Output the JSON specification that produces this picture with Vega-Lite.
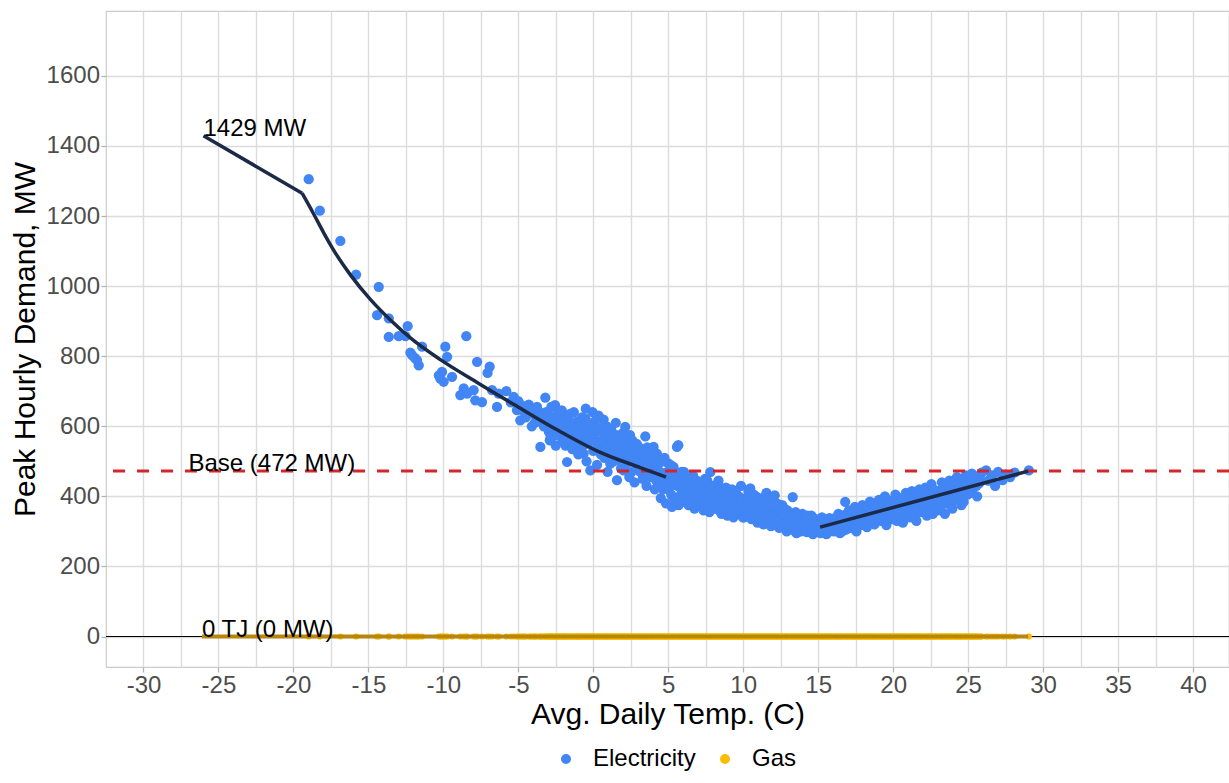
{
"$schema": "https://vega.github.io/schema/vega-lite/v6.json",
"width": 1123, "height": 656,
"autosize": "none",
"padding": {"left": 106, "top": 11, "right": 0, "bottom": 116},
"background": "white",
"config": {
  "font": "Liberation Sans",
  "view": {"stroke": "#CCCCCC", "strokeWidth": 1.2},
  "axis": {"labelFont": "Liberation Sans", "labelFontSize": 24, "labelColor": "#4D4D4D", "titleFont": "Liberation Sans", "titleFontSize": 30, "titleColor": "#000000", "titleFontWeight": "normal", "gridColor": "#DCDCDC", "gridWidth": 1.4, "domain": false, "tickColor": "#B3B3B3", "tickSize": 5, "tickWidth": 1.3, "labelPadding": 1.5, "labelOverlap": false, "labelFlush": false},
  "axisX": {"titlePadding": 2},
  "axisY": {"titlePadding": 6},
  "legend": {"labelFont": "Liberation Sans", "labelFontSize": 24, "labelColor": "#000000", "padding": 0}
},
"datasets": {
"pts": [
{"t":-18.98,"e":1305,"g":0},{"t":-18.24,"e":1215,"g":0},{"t":-16.87,"e":1129,"g":0},{"t":-15.82,"e":1033,"g":0},{"t":-14.31,"e":998,"g":0},{"t":-14.42,"e":917,"g":0},{"t":-13.64,"e":908,"g":0},{"t":-13.64,"e":855,"g":0},{"t":-12.98,"e":857,"g":0},{"t":-12.38,"e":886,"g":0},{"t":-12.53,"e":857,"g":0},{"t":-11.42,"e":827,"g":0},{"t":-12.09,"e":803,"g":0},{"t":-11.64,"e":774,"g":0},{"t":-11.76,"e":789,"g":0},{"t":-11.9,"e":795,"g":0},{"t":-12.2,"e":810,"g":0},{"t":-9.87,"e":827,"g":0},{"t":-9.75,"e":798,"g":0},{"t":-10.09,"e":755,"g":0},{"t":-10.2,"e":736,"g":0},{"t":-9.98,"e":727,"g":0},{"t":-9.42,"e":741,"g":0},{"t":-10.3,"e":745,"g":0},{"t":-8.47,"e":857,"g":0},{"t":-7.75,"e":784,"g":0},{"t":-6.91,"e":770,"g":0},{"t":-7.05,"e":752,"g":0},{"t":-8.87,"e":689,"g":0},{"t":-8.42,"e":693,"g":0},{"t":-7.87,"e":674,"g":0},{"t":-7.42,"e":669,"g":0},{"t":-8.64,"e":708,"g":0},{"t":-7.98,"e":703,"g":0},{"t":-6.75,"e":703,"g":0},{"t":-6.31,"e":693,"g":0},{"t":-6.42,"e":655,"g":0},{"t":-5.31,"e":684,"g":0},{"t":-5.09,"e":646,"g":0},{"t":-4.65,"e":655,"g":0},{"t":-4.87,"e":617,"g":0},{"t":-3.87,"e":631,"g":0},{"t":-3.2,"e":682,"g":0},{"t":-5.8,"e":700,"g":0},{"t":-5.5,"e":668,"g":0},{"t":-5.0,"e":672,"g":0},{"t":-4.6,"e":640,"g":0},{"t":-4.3,"e":662,"g":0},{"t":-4.0,"e":648,"g":0},{"t":-3.6,"e":640,"g":0},{"t":-3.4,"e":610,"g":0},{"t":-3.0,"e":625,"g":0},{"t":-3.53,"e":541,"g":0},{"t":-2.87,"e":565,"g":0},{"t":-3.09,"e":598,"g":0},
{"t":-4.8,"e":660,"g":0},{"t":-4.5,"e":625,"g":0},{"t":-4.2,"e":645,"g":0},{"t":-3.9,"e":610,"g":0},{"t":-3.75,"e":655,"g":0},{"t":-3.3,"e":600,"g":0},{"t":-3.15,"e":640,"g":0},{"t":-4.1,"e":600,"g":0},{"t":-3.5,"e":625,"g":0},
{"t":-2.95,"e":612,"g":0},{"t":-2.9,"e":560,"g":0},{"t":-2.8,"e":655,"g":0},{"t":-2.7,"e":590,"g":0},{"t":-2.6,"e":625,"g":0},{"t":-2.5,"e":545,"g":0},{"t":-2.45,"e":600,"g":0},{"t":-2.3,"e":640,"g":0},{"t":-2.2,"e":575,"g":0},{"t":-2.15,"e":610,"g":0},{"t":-2.05,"e":560,"g":0},{"t":-2.0,"e":630,"g":0},
{"t":-2.97,"e":585,"g":0},{"t":-2.85,"e":630,"g":0},{"t":-2.75,"e":570,"g":0},{"t":-2.65,"e":600,"g":0},{"t":-2.55,"e":660,"g":0},{"t":-2.4,"e":575,"g":0},{"t":-2.35,"e":615,"g":0},{"t":-2.25,"e":595,"g":0},{"t":-2.1,"e":645,"g":0},{"t":-2.02,"e":585,"g":0},
{"t":-1.95,"e":590,"g":0},{"t":-1.85,"e":545,"g":0},{"t":-1.75,"e":498,"g":0},{"t":-1.7,"e":620,"g":0},{"t":-1.6,"e":570,"g":0},{"t":-1.5,"e":600,"g":0},{"t":-1.4,"e":535,"g":0},{"t":-1.3,"e":640,"g":0},{"t":-1.25,"e":580,"g":0},{"t":-1.15,"e":555,"g":0},{"t":-1.05,"e":615,"g":0},{"t":-1.0,"e":520,"g":0},
{"t":-1.97,"e":610,"g":0},{"t":-1.9,"e":565,"g":0},{"t":-1.8,"e":600,"g":0},{"t":-1.65,"e":585,"g":0},{"t":-1.55,"e":635,"g":0},{"t":-1.45,"e":560,"g":0},{"t":-1.35,"e":595,"g":0},{"t":-1.2,"e":610,"g":0},{"t":-1.1,"e":575,"g":0},{"t":-1.02,"e":595,"g":0},
{"t":-0.95,"e":590,"g":0},{"t":-0.85,"e":545,"g":0},{"t":-0.75,"e":625,"g":0},{"t":-0.64,"e":522,"g":0},{"t":-0.6,"e":570,"g":0},{"t":-0.53,"e":622,"g":0},{"t":-0.45,"e":500,"g":0},{"t":-0.35,"e":598,"g":0},{"t":-0.3,"e":555,"g":0},{"t":-0.2,"e":474,"g":0},{"t":-0.15,"e":580,"g":0},{"t":-0.05,"e":640,"g":0},{"t":0.0,"e":530,"g":0},
{"t":-0.98,"e":560,"g":0},{"t":-0.9,"e":610,"g":0},{"t":-0.8,"e":580,"g":0},{"t":-0.7,"e":600,"g":0},{"t":-0.55,"e":548,"g":0},{"t":-0.4,"e":575,"g":0},{"t":-0.25,"e":610,"g":0},{"t":-0.1,"e":560,"g":0},{"t":-0.02,"e":590,"g":0},{"t":-0.5,"e":650,"g":0},
{"t":0.05,"e":605,"g":0},{"t":0.15,"e":560,"g":0},{"t":0.25,"e":490,"g":0},{"t":0.35,"e":630,"g":0},{"t":0.45,"e":541,"g":0},{"t":0.55,"e":585,"g":0},{"t":0.69,"e":619,"g":0},{"t":0.75,"e":510,"g":0},{"t":0.8,"e":560,"g":0},{"t":0.9,"e":600,"g":0},{"t":0.95,"e":470,"g":0},
{"t":0.1,"e":580,"g":0},{"t":0.2,"e":620,"g":0},{"t":0.3,"e":545,"g":0},{"t":0.4,"e":595,"g":0},{"t":0.5,"e":520,"g":0},{"t":0.6,"e":560,"g":0},{"t":0.7,"e":580,"g":0},{"t":0.85,"e":535,"g":0},{"t":0.92,"e":595,"g":0},{"t":0.98,"e":545,"g":0},
{"t":1.05,"e":545,"g":0},{"t":1.13,"e":493,"g":0},{"t":1.2,"e":590,"g":0},{"t":1.3,"e":525,"g":0},{"t":1.4,"e":565,"g":0},{"t":1.5,"e":610,"g":0},{"t":1.58,"e":446,"g":0},{"t":1.65,"e":505,"g":0},{"t":1.75,"e":550,"g":0},{"t":1.85,"e":480,"g":0},{"t":1.95,"e":580,"g":0},
{"t":1.08,"e":570,"g":0},{"t":1.17,"e":520,"g":0},{"t":1.25,"e":555,"g":0},{"t":1.35,"e":500,"g":0},{"t":1.45,"e":540,"g":0},{"t":1.55,"e":575,"g":0},{"t":1.7,"e":530,"g":0},{"t":1.8,"e":560,"g":0},{"t":1.9,"e":515,"g":0},{"t":1.98,"e":545,"g":0},
{"t":2.02,"e":474,"g":0},{"t":2.13,"e":598,"g":0},{"t":2.2,"e":520,"g":0},{"t":2.3,"e":550,"g":0},{"t":2.4,"e":455,"g":0},{"t":2.5,"e":500,"g":0},{"t":2.6,"e":560,"g":0},{"t":2.69,"e":512,"g":0},{"t":2.75,"e":440,"g":0},{"t":2.85,"e":530,"g":0},{"t":2.95,"e":485,"g":0},
{"t":2.05,"e":530,"g":0},{"t":2.17,"e":560,"g":0},{"t":2.25,"e":495,"g":0},{"t":2.35,"e":525,"g":0},{"t":2.45,"e":575,"g":0},{"t":2.55,"e":470,"g":0},{"t":2.65,"e":530,"g":0},{"t":2.8,"e":505,"g":0},{"t":2.9,"e":550,"g":0},{"t":2.98,"e":515,"g":0},
{"t":3.05,"e":540,"g":0},{"t":3.13,"e":470,"g":0},{"t":3.25,"e":505,"g":0},{"t":3.35,"e":474,"g":0},{"t":3.47,"e":571,"g":0},{"t":3.55,"e":430,"g":0},{"t":3.65,"e":490,"g":0},{"t":3.75,"e":525,"g":0},{"t":3.85,"e":455,"g":0},{"t":3.95,"e":500,"g":0},
{"t":3.08,"e":495,"g":0},{"t":3.2,"e":520,"g":0},{"t":3.3,"e":450,"g":0},{"t":3.4,"e":515,"g":0},{"t":3.5,"e":490,"g":0},{"t":3.6,"e":540,"g":0},{"t":3.7,"e":460,"g":0},{"t":3.8,"e":505,"g":0},{"t":3.9,"e":480,"g":0},{"t":3.98,"e":520,"g":0},
{"t":4.02,"e":541,"g":0},{"t":4.1,"e":420,"g":0},{"t":4.24,"e":522,"g":0},{"t":4.3,"e":465,"g":0},{"t":4.4,"e":495,"g":0},{"t":4.5,"e":395,"g":0},{"t":4.6,"e":445,"g":0},{"t":4.69,"e":446,"g":0},{"t":4.75,"e":510,"g":0},{"t":4.85,"e":380,"g":0},{"t":4.95,"e":470,"g":0},
{"t":4.05,"e":480,"g":0},{"t":4.15,"e":505,"g":0},{"t":4.2,"e":445,"g":0},{"t":4.35,"e":430,"g":0},{"t":4.45,"e":470,"g":0},{"t":4.55,"e":500,"g":0},{"t":4.65,"e":420,"g":0},{"t":4.8,"e":455,"g":0},{"t":4.9,"e":430,"g":0},{"t":4.98,"e":495,"g":0},
{"t":5.05,"e":420,"g":0},{"t":5.15,"e":490,"g":0},{"t":5.25,"e":370,"g":0},{"t":5.35,"e":484,"g":0},{"t":5.45,"e":440,"g":0},{"t":5.58,"e":541,"g":0},{"t":5.67,"e":546,"g":0},{"t":5.75,"e":400,"g":0},{"t":5.85,"e":455,"g":0},{"t":5.95,"e":385,"g":0},
{"t":5.08,"e":455,"g":0},{"t":5.2,"e":405,"g":0},{"t":5.3,"e":445,"g":0},{"t":5.4,"e":395,"g":0},{"t":5.5,"e":470,"g":0},{"t":5.62,"e":430,"g":0},{"t":5.7,"e":375,"g":0},{"t":5.8,"e":425,"g":0},{"t":5.9,"e":470,"g":0},{"t":5.98,"e":410,"g":0},
{"t":6.05,"e":470,"g":0},{"t":6.15,"e":410,"g":0},{"t":6.25,"e":445,"g":0},{"t":6.35,"e":375,"g":0},{"t":6.45,"e":430,"g":0},{"t":6.55,"e":395,"g":0},{"t":6.65,"e":460,"g":0},{"t":6.75,"e":365,"g":0},{"t":6.85,"e":420,"g":0},{"t":6.95,"e":400,"g":0},
{"t":6.08,"e":440,"g":0},{"t":6.2,"e":390,"g":0},{"t":6.3,"e":420,"g":0},{"t":6.4,"e":450,"g":0},{"t":6.5,"e":380,"g":0},{"t":6.6,"e":410,"g":0},{"t":6.7,"e":435,"g":0},{"t":6.8,"e":390,"g":0},{"t":6.9,"e":445,"g":0},{"t":6.98,"e":375,"g":0},
{"t":7.05,"e":440,"g":0},{"t":7.15,"e":380,"g":0},{"t":7.25,"e":415,"g":0},{"t":7.35,"e":360,"g":0},{"t":7.45,"e":450,"g":0},{"t":7.55,"e":395,"g":0},{"t":7.65,"e":425,"g":0},{"t":7.8,"e":469,"g":0},{"t":7.85,"e":375,"g":0},{"t":7.95,"e":405,"g":0},
{"t":7.08,"e":405,"g":0},{"t":7.2,"e":430,"g":0},{"t":7.3,"e":390,"g":0},{"t":7.4,"e":410,"g":0},{"t":7.5,"e":370,"g":0},{"t":7.6,"e":445,"g":0},{"t":7.7,"e":395,"g":0},{"t":7.75,"e":355,"g":0},{"t":7.9,"e":430,"g":0},{"t":7.98,"e":385,"g":0},
{"t":8.05,"e":430,"g":0},{"t":8.15,"e":365,"g":0},{"t":8.25,"e":400,"g":0},{"t":8.35,"e":445,"g":0},{"t":8.45,"e":380,"g":0},{"t":8.55,"e":350,"g":0},{"t":8.65,"e":410,"g":0},{"t":8.75,"e":390,"g":0},{"t":8.85,"e":425,"g":0},{"t":8.95,"e":345,"g":0},
{"t":8.08,"e":375,"g":0},{"t":8.2,"e":415,"g":0},{"t":8.3,"e":385,"g":0},{"t":8.4,"e":360,"g":0},{"t":8.5,"e":425,"g":0},{"t":8.6,"e":390,"g":0},{"t":8.7,"e":365,"g":0},{"t":8.8,"e":400,"g":0},{"t":8.9,"e":380,"g":0},{"t":8.98,"e":410,"g":0},
{"t":9.05,"e":395,"g":0},{"t":9.15,"e":360,"g":0},{"t":9.25,"e":420,"g":0},{"t":9.35,"e":340,"g":0},{"t":9.45,"e":380,"g":0},{"t":9.55,"e":405,"g":0},{"t":9.65,"e":350,"g":0},{"t":9.75,"e":385,"g":0},{"t":9.85,"e":430,"g":0},{"t":9.95,"e":365,"g":0},
{"t":9.1,"e":375,"g":0},{"t":9.2,"e":400,"g":0},{"t":9.3,"e":385,"g":0},{"t":9.4,"e":355,"g":0},{"t":9.5,"e":415,"g":0},{"t":9.6,"e":370,"g":0},{"t":9.7,"e":400,"g":0},{"t":9.8,"e":355,"g":0},{"t":9.9,"e":390,"g":0},{"t":9.98,"e":340,"g":0},
{"t":10.05,"e":340,"g":0},{"t":10.15,"e":395,"g":0},{"t":10.25,"e":370,"g":0},{"t":10.35,"e":415,"g":0},{"t":10.47,"e":423,"g":0},{"t":10.55,"e":335,"g":0},{"t":10.65,"e":380,"g":0},{"t":10.75,"e":355,"g":0},{"t":10.85,"e":400,"g":0},{"t":10.95,"e":325,"g":0},
{"t":10.1,"e":365,"g":0},{"t":10.2,"e":350,"g":0},{"t":10.3,"e":385,"g":0},{"t":10.4,"e":360,"g":0},{"t":10.5,"e":395,"g":0},{"t":10.6,"e":350,"g":0},{"t":10.7,"e":405,"g":0},{"t":10.8,"e":370,"g":0},{"t":10.9,"e":345,"g":0},{"t":10.98,"e":385,"g":0},
{"t":11.05,"e":375,"g":0},{"t":11.15,"e":340,"g":0},{"t":11.25,"e":395,"g":0},{"t":11.35,"e":320,"g":0},{"t":11.45,"e":360,"g":0},{"t":11.55,"e":410,"g":0},{"t":11.65,"e":345,"g":0},{"t":11.75,"e":380,"g":0},{"t":11.85,"e":315,"g":0},{"t":11.95,"e":355,"g":0},
{"t":11.1,"e":360,"g":0},{"t":11.2,"e":390,"g":0},{"t":11.3,"e":350,"g":0},{"t":11.4,"e":375,"g":0},{"t":11.5,"e":330,"g":0},{"t":11.6,"e":365,"g":0},{"t":11.7,"e":395,"g":0},{"t":11.8,"e":350,"g":0},{"t":11.9,"e":370,"g":0},{"t":11.98,"e":335,"g":0},
{"t":12.05,"e":370,"g":0},{"t":12.1,"e":403,"g":0},{"t":12.2,"e":330,"g":0},{"t":12.3,"e":355,"g":0},{"t":12.4,"e":310,"g":0},{"t":12.5,"e":345,"g":0},{"t":12.6,"e":375,"g":0},{"t":12.7,"e":320,"g":0},{"t":12.8,"e":340,"g":0},{"t":12.9,"e":300,"g":0},{"t":12.95,"e":360,"g":0},
{"t":12.15,"e":350,"g":0},{"t":12.25,"e":380,"g":0},{"t":12.35,"e":335,"g":0},{"t":12.45,"e":360,"g":0},{"t":12.55,"e":320,"g":0},{"t":12.65,"e":350,"g":0},{"t":12.75,"e":365,"g":0},{"t":12.85,"e":325,"g":0},{"t":12.92,"e":345,"g":0},
{"t":13.05,"e":335,"g":0},{"t":13.15,"e":305,"g":0},{"t":13.3,"e":398,"g":0},{"t":13.35,"e":350,"g":0},{"t":13.45,"e":318,"g":0},{"t":13.55,"e":295,"g":0},{"t":13.65,"e":340,"g":0},{"t":13.75,"e":325,"g":0},{"t":13.85,"e":300,"g":0},{"t":13.95,"e":350,"g":0},
{"t":13.1,"e":320,"g":0},{"t":13.2,"e":345,"g":0},{"t":13.25,"e":310,"g":0},{"t":13.4,"e":335,"g":0},{"t":13.5,"e":355,"g":0},{"t":13.6,"e":315,"g":0},{"t":13.7,"e":300,"g":0},{"t":13.8,"e":340,"g":0},{"t":13.9,"e":320,"g":0},{"t":13.98,"e":305,"g":0},
{"t":14.05,"e":315,"g":0},{"t":14.15,"e":340,"g":0},{"t":14.25,"e":298,"g":0},{"t":14.35,"e":330,"g":0},{"t":14.45,"e":305,"g":0},{"t":14.55,"e":345,"g":0},{"t":14.65,"e":292,"g":0},{"t":14.75,"e":320,"g":0},{"t":14.85,"e":335,"g":0},{"t":14.95,"e":300,"g":0},
{"t":14.1,"e":325,"g":0},{"t":14.2,"e":310,"g":0},{"t":14.3,"e":345,"g":0},{"t":14.4,"e":318,"g":0},{"t":14.5,"e":325,"g":0},{"t":14.6,"e":310,"g":0},{"t":14.7,"e":335,"g":0},{"t":14.8,"e":305,"g":0},{"t":14.9,"e":322,"g":0},
{"t":15.05,"e":325,"g":0},{"t":15.15,"e":295,"g":0},{"t":15.25,"e":340,"g":0},{"t":15.35,"e":310,"g":0},{"t":15.45,"e":330,"g":0},{"t":15.55,"e":292,"g":0},{"t":15.65,"e":318,"g":0},{"t":15.75,"e":338,"g":0},{"t":15.85,"e":303,"g":0},{"t":15.95,"e":325,"g":0},
{"t":15.1,"e":310,"g":0},{"t":15.2,"e":325,"g":0},{"t":15.3,"e":300,"g":0},{"t":15.4,"e":318,"g":0},{"t":15.5,"e":335,"g":0},{"t":15.6,"e":310,"g":0},{"t":15.7,"e":300,"g":0},{"t":15.8,"e":322,"g":0},{"t":15.9,"e":312,"g":0},
{"t":16.05,"e":300,"g":0},{"t":16.15,"e":335,"g":0},{"t":16.25,"e":315,"g":0},{"t":16.35,"e":350,"g":0},{"t":16.45,"e":295,"g":0},{"t":16.55,"e":325,"g":0},{"t":16.65,"e":345,"g":0},{"t":16.8,"e":384,"g":0},{"t":16.85,"e":305,"g":0},{"t":16.95,"e":335,"g":0},
{"t":16.1,"e":318,"g":0},{"t":16.2,"e":340,"g":0},{"t":16.3,"e":305,"g":0},{"t":16.4,"e":330,"g":0},{"t":16.5,"e":312,"g":0},{"t":16.6,"e":300,"g":0},{"t":16.7,"e":325,"g":0},{"t":16.9,"e":350,"g":0},{"t":16.98,"e":318,"g":0},
{"t":17.05,"e":360,"g":0},{"t":17.15,"e":310,"g":0},{"t":17.25,"e":345,"g":0},{"t":17.35,"e":325,"g":0},{"t":17.45,"e":370,"g":0},{"t":17.55,"e":300,"g":0},{"t":17.65,"e":340,"g":0},{"t":17.75,"e":355,"g":0},{"t":17.85,"e":318,"g":0},{"t":17.95,"e":375,"g":0},
{"t":17.1,"e":335,"g":0},{"t":17.2,"e":325,"g":0},{"t":17.3,"e":355,"g":0},{"t":17.4,"e":310,"g":0},{"t":17.5,"e":342,"g":0},{"t":17.6,"e":328,"g":0},{"t":17.7,"e":365,"g":0},{"t":17.8,"e":335,"g":0},{"t":17.9,"e":345,"g":0},
{"t":18.05,"e":330,"g":0},{"t":18.15,"e":365,"g":0},{"t":18.25,"e":312,"g":0},{"t":18.35,"e":350,"g":0},{"t":18.45,"e":385,"g":0},{"t":18.55,"e":335,"g":0},{"t":18.65,"e":360,"g":0},{"t":18.75,"e":320,"g":0},{"t":18.85,"e":372,"g":0},{"t":18.95,"e":345,"g":0},
{"t":18.1,"e":345,"g":0},{"t":18.2,"e":338,"g":0},{"t":18.3,"e":370,"g":0},{"t":18.4,"e":325,"g":0},{"t":18.5,"e":355,"g":0},{"t":18.6,"e":342,"g":0},{"t":18.7,"e":378,"g":0},{"t":18.8,"e":350,"g":0},{"t":18.9,"e":330,"g":0},
{"t":19.05,"e":390,"g":0},{"t":19.15,"e":330,"g":0},{"t":19.25,"e":365,"g":0},{"t":19.35,"e":345,"g":0},{"t":19.45,"e":400,"g":0},{"t":19.55,"e":318,"g":0},{"t":19.65,"e":370,"g":0},{"t":19.75,"e":352,"g":0},{"t":19.85,"e":385,"g":0},{"t":19.95,"e":335,"g":0},
{"t":19.1,"e":360,"g":0},{"t":19.2,"e":345,"g":0},{"t":19.3,"e":380,"g":0},{"t":19.4,"e":365,"g":0},{"t":19.5,"e":340,"g":0},{"t":19.6,"e":390,"g":0},{"t":19.7,"e":355,"g":0},{"t":19.8,"e":368,"g":0},{"t":19.9,"e":345,"g":0},
{"t":20.05,"e":360,"g":0},{"t":20.15,"e":405,"g":0},{"t":20.25,"e":330,"g":0},{"t":20.35,"e":378,"g":0},{"t":20.45,"e":350,"g":0},{"t":20.55,"e":395,"g":0},{"t":20.65,"e":325,"g":0},{"t":20.75,"e":370,"g":0},{"t":20.85,"e":410,"g":0},{"t":20.95,"e":345,"g":0},
{"t":20.1,"e":375,"g":0},{"t":20.2,"e":355,"g":0},{"t":20.3,"e":390,"g":0},{"t":20.4,"e":365,"g":0},{"t":20.5,"e":340,"g":0},{"t":20.6,"e":380,"g":0},{"t":20.7,"e":392,"g":0},{"t":20.8,"e":355,"g":0},{"t":20.9,"e":375,"g":0},
{"t":21.05,"e":385,"g":0},{"t":21.15,"e":340,"g":0},{"t":21.25,"e":415,"g":0},{"t":21.35,"e":365,"g":0},{"t":21.45,"e":395,"g":0},{"t":21.55,"e":330,"g":0},{"t":21.65,"e":375,"g":0},{"t":21.75,"e":420,"g":0},{"t":21.85,"e":355,"g":0},{"t":21.95,"e":400,"g":0},
{"t":21.1,"e":395,"g":0},{"t":21.2,"e":365,"g":0},{"t":21.3,"e":380,"g":0},{"t":21.4,"e":350,"g":0},{"t":21.5,"e":405,"g":0},{"t":21.6,"e":375,"g":0},{"t":21.7,"e":390,"g":0},{"t":21.8,"e":362,"g":0},{"t":21.9,"e":380,"g":0},
{"t":22.05,"e":370,"g":0},{"t":22.15,"e":425,"g":0},{"t":22.25,"e":345,"g":0},{"t":22.35,"e":395,"g":0},{"t":22.45,"e":380,"g":0},{"t":22.55,"e":435,"g":0},{"t":22.65,"e":350,"g":0},{"t":22.75,"e":405,"g":0},{"t":22.85,"e":385,"g":0},{"t":22.95,"e":360,"g":0},
{"t":22.1,"e":395,"g":0},{"t":22.2,"e":405,"g":0},{"t":22.3,"e":375,"g":0},{"t":22.4,"e":412,"g":0},{"t":22.5,"e":365,"g":0},{"t":22.6,"e":395,"g":0},{"t":22.7,"e":420,"g":0},{"t":22.8,"e":375,"g":0},{"t":22.9,"e":400,"g":0},
{"t":23.05,"e":415,"g":0},{"t":23.15,"e":370,"g":0},{"t":23.25,"e":440,"g":0},{"t":23.35,"e":395,"g":0},{"t":23.45,"e":350,"g":0},{"t":23.55,"e":420,"g":0},{"t":23.65,"e":385,"g":0},{"t":23.75,"e":445,"g":0},{"t":23.85,"e":400,"g":0},{"t":23.95,"e":365,"g":0},
{"t":23.1,"e":400,"g":0},{"t":23.2,"e":385,"g":0},{"t":23.3,"e":420,"g":0},{"t":23.4,"e":405,"g":0},{"t":23.5,"e":380,"g":0},{"t":23.6,"e":435,"g":0},{"t":23.7,"e":410,"g":0},{"t":23.8,"e":375,"g":0},{"t":23.9,"e":420,"g":0},
{"t":24.05,"e":430,"g":0},{"t":24.15,"e":390,"g":0},{"t":24.25,"e":455,"g":0},{"t":24.35,"e":410,"g":0},{"t":24.45,"e":440,"g":0},{"t":24.55,"e":375,"g":0},{"t":24.7,"e":384,"g":0},{"t":24.75,"e":425,"g":0},{"t":24.85,"e":460,"g":0},{"t":24.95,"e":405,"g":0},
{"t":24.1,"e":415,"g":0},{"t":24.2,"e":400,"g":0},{"t":24.3,"e":430,"g":0},{"t":24.4,"e":420,"g":0},{"t":24.5,"e":395,"g":0},{"t":24.6,"e":445,"g":0},{"t":24.8,"e":415,"g":0},{"t":24.9,"e":440,"g":0},
{"t":25.05,"e":440,"g":0},{"t":25.15,"e":410,"g":0},{"t":25.25,"e":465,"g":0},{"t":25.35,"e":425,"g":0},{"t":25.5,"e":450,"g":0},{"t":25.6,"e":400,"g":0},{"t":25.75,"e":438,"g":0},{"t":25.9,"e":468,"g":0},
{"t":25.1,"e":425,"g":0},{"t":25.2,"e":448,"g":0},{"t":25.3,"e":440,"g":0},{"t":25.45,"e":455,"g":0},{"t":25.55,"e":430,"g":0},{"t":25.7,"e":458,"g":0},{"t":25.85,"e":445,"g":0},
{"t":26.2,"e":474,"g":0},{"t":26.35,"e":445,"g":0},{"t":26.6,"e":460,"g":0},{"t":26.8,"e":430,"g":0},{"t":27.0,"e":470,"g":0},{"t":27.3,"e":446,"g":0},{"t":27.5,"e":462,"g":0},{"t":27.8,"e":455,"g":0},{"t":28.1,"e":468,"g":0},{"t":29.05,"e":474,"g":0}
],
"efit": [
{"s":"a0","t":-26.0,"v":1429},{"s":"a0","t":-19.42,"v":1265},
{"s":"a","t":-19.42,"v":1265},{"s":"a","t":-18.64,"v":1205},{"s":"a","t":-17.98,"v":1152},{"s":"a","t":-17.31,"v":1102},{"s":"a","t":-16.2,"v":1032},{"s":"a","t":-14.87,"v":962},{"s":"a","t":-13.53,"v":903},{"s":"a","t":-12.2,"v":852},{"s":"a","t":-10.2,"v":790},{"s":"a","t":-7.75,"v":725},{"s":"a","t":-5.09,"v":657},{"s":"a","t":-2.42,"v":590},{"s":"a","t":0.24,"v":530},{"s":"a","t":3.13,"v":482},{"s":"a","t":4.85,"v":455},
{"s":"b","t":15.13,"v":312},{"s":"b","t":29.0,"v":472}
],
"gfit": [{"t":-26.1,"v":0},{"t":29.0,"v":0}],
"labels": [
{"t":-26.0,"v":1429,"lab":"1429 MW"},
{"t":-27.0,"v":472,"lab":"Base (472 MW)"},
{"t":-26.1,"v":0,"lab":"0 TJ (0 MW)"}
]
},
"layer": [
{
 "data": {"values": [{"v": 0}]},
 "mark": {"type": "rule", "color": "#000000", "strokeWidth": 1},
 "encoding": {
  "y": {"field": "v", "type": "quantitative", "title": "Peak Hourly Demand, MW", "scale": {"domain": [-87, 1785], "nice": false, "zero": false},
        "axis": {"values": [0,100,200,300,400,500,600,700,800,900,1000,1100,1200,1300,1400,1500,1600,1700], "labelExpr": "datum.value % 200 === 0 ? toString(datum.value) : ''", "tickOpacity": {"condition": {"test": "datum.value % 200 === 0", "value": 1}, "value": 0}}}
 }
},
{
 "data": {"name": "pts"},
 "mark": {"type": "circle", "size": 38, "opacity": 1},
 "encoding": {
  "x": {"field": "t", "type": "quantitative", "title": "Avg. Daily Temp. (C)", "scale": {"domain": [-32.5, 42.4], "nice": false, "zero": false},
        "axis": {"values": [-30,-27.5,-25,-22.5,-20,-17.5,-15,-12.5,-10,-7.5,-5,-2.5,0,2.5,5,7.5,10,12.5,15,17.5,20,22.5,25,27.5,30,32.5,35,37.5,40], "labelExpr": "datum.value % 5 === 0 ? toString(datum.value) : ''", "tickOpacity": {"condition": {"test": "datum.value % 5 === 0", "value": 1}, "value": 0}}},
  "y": {"field": "g", "type": "quantitative", "title": "Peak Hourly Demand, MW"},
  "color": {"datum": "Gas", "type": "nominal", "scale": {"domain": ["Electricity", "Gas"], "range": ["#4285F4", "#FBBC04"]},
            "legend": {"title": null, "orient": "none", "direction": "horizontal", "legendX": 448, "legendY": 736, "symbolType": "circle", "symbolSize": 100, "labelOffset": 15, "columnPadding": 17, "symbolStrokeWidth": 0}}
 }
},
{
 "data": {"name": "gfit"},
 "mark": {"type": "line", "color": "#B8860B", "strokeWidth": 4},
 "encoding": {
  "x": {"field": "t", "type": "quantitative", "title": "Avg. Daily Temp. (C)"},
  "y": {"field": "v", "type": "quantitative", "title": "Peak Hourly Demand, MW"}
 }
},
{
 "data": {"name": "pts"},
 "mark": {"type": "circle", "size": 105, "opacity": 1},
 "encoding": {
  "x": {"field": "t", "type": "quantitative", "title": "Avg. Daily Temp. (C)"},
  "y": {"field": "e", "type": "quantitative", "title": "Peak Hourly Demand, MW"},
  "color": {"datum": "Electricity", "type": "nominal"}
 }
},
{
 "data": {"values": [{"v": 472}]},
 "mark": {"type": "rule", "color": "#D7262B", "strokeWidth": 3, "strokeDash": [12, 12]},
 "encoding": {
  "y": {"field": "v", "type": "quantitative", "title": "Peak Hourly Demand, MW"}
 }
},
{
 "data": {"name": "efit"},
 "transform": [{"filter": "datum.s !== 'a'"}],
 "mark": {"type": "line", "color": "#1B2A47", "strokeWidth": 3.5},
 "encoding": {
  "x": {"field": "t", "type": "quantitative", "title": "Avg. Daily Temp. (C)"},
  "y": {"field": "v", "type": "quantitative", "title": "Peak Hourly Demand, MW"},
  "detail": {"field": "s", "type": "nominal"}
 }
},
{
 "data": {"name": "efit"},
 "transform": [{"filter": "datum.s === 'a'"}],
 "mark": {"type": "line", "color": "#1B2A47", "strokeWidth": 3.5, "interpolate": "monotone"},
 "encoding": {
  "x": {"field": "t", "type": "quantitative", "title": "Avg. Daily Temp. (C)"},
  "y": {"field": "v", "type": "quantitative", "title": "Peak Hourly Demand, MW"}
 }
},
{
 "data": {"name": "labels"},
 "mark": {"type": "text", "align": "left", "baseline": "alphabetic", "fontSize": 24, "font": "Liberation Sans", "color": "#000000"},
 "encoding": {
  "x": {"field": "t", "type": "quantitative", "title": "Avg. Daily Temp. (C)"},
  "y": {"field": "v", "type": "quantitative", "title": "Peak Hourly Demand, MW"},
  "text": {"field": "lab", "type": "nominal"}
 }
}
]
}
